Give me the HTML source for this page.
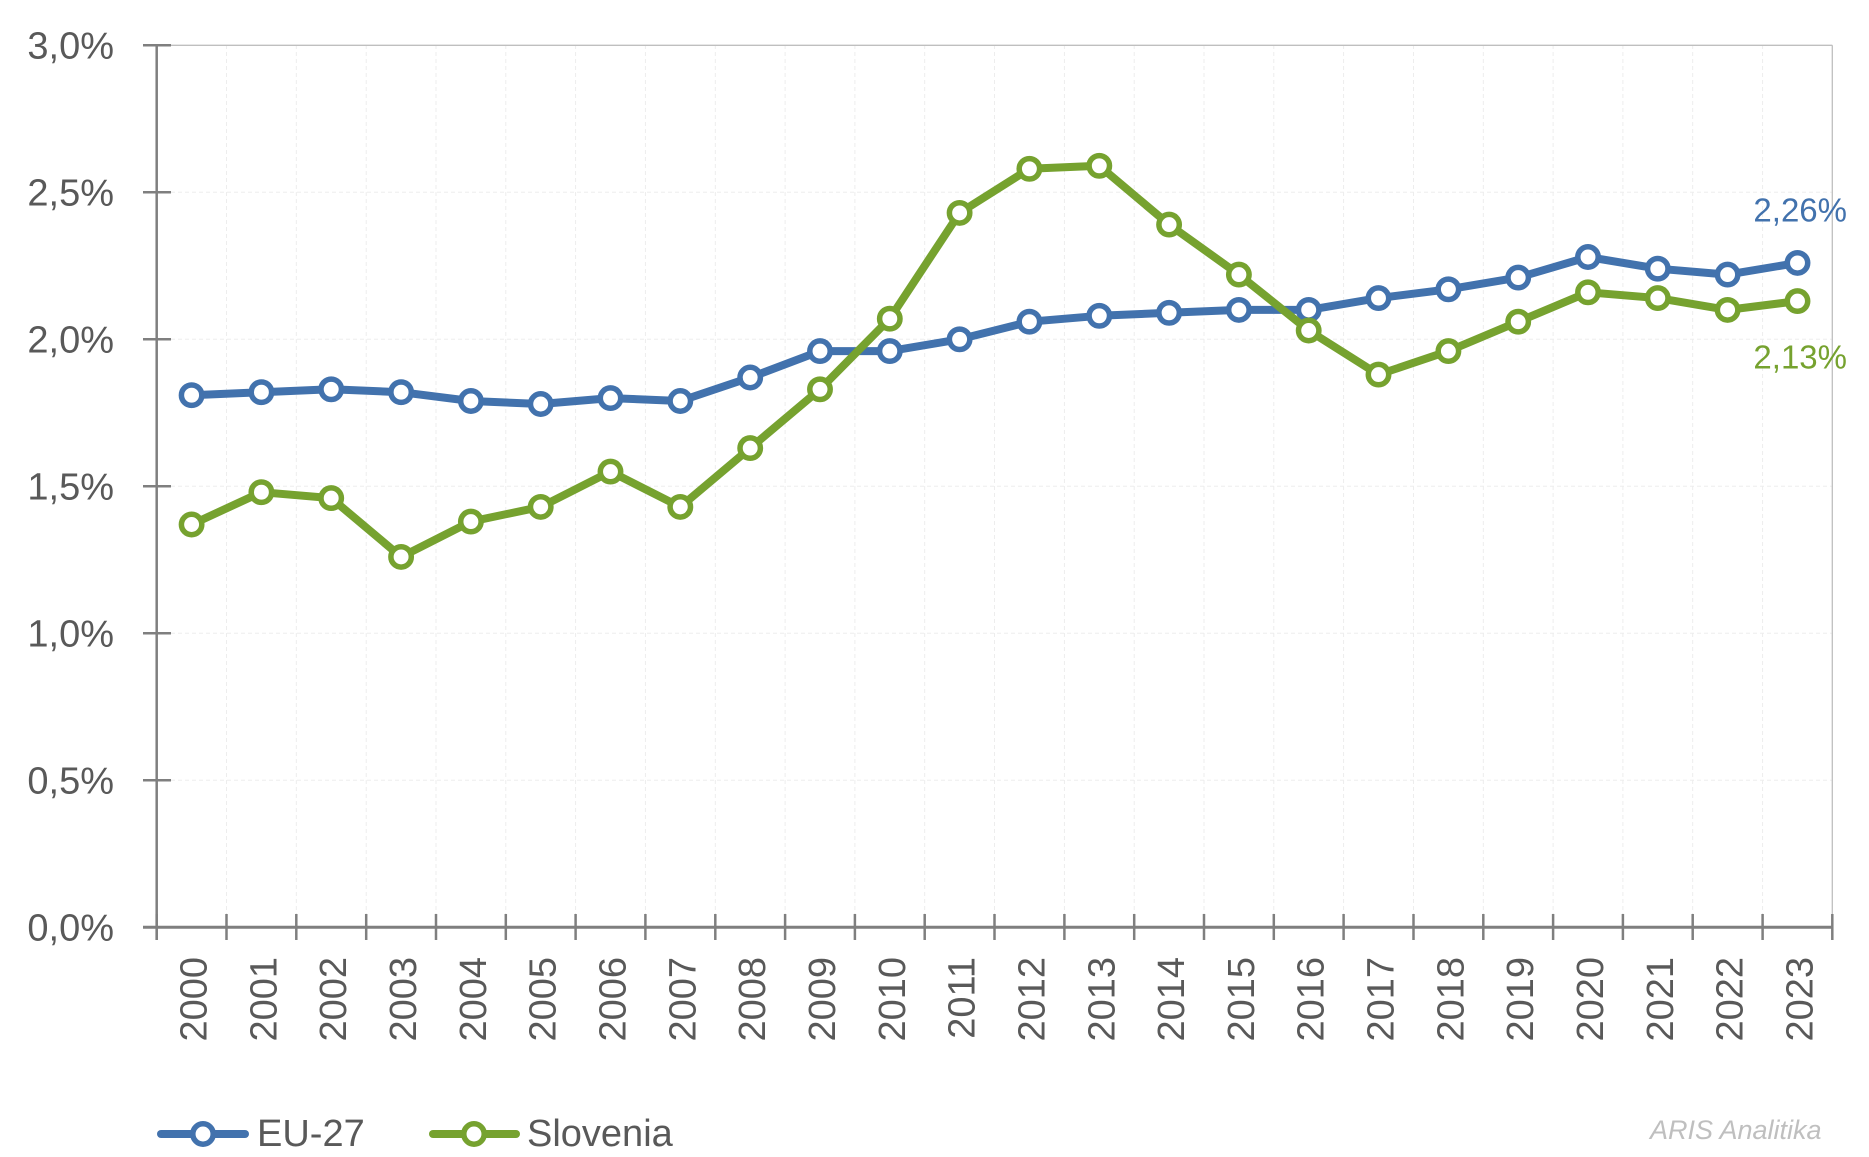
<!DOCTYPE html>
<html><head><meta charset="utf-8"><style>
html,body{margin:0;padding:0;background:#fff;}
svg{display:block;}
text{font-family:"Liberation Sans",sans-serif;}
</style></head><body>
<svg width="1869" height="1157" viewBox="0 0 1869 1157" xmlns="http://www.w3.org/2000/svg">
<rect width="1869" height="1157" fill="#fff"/>
<g stroke="#ededed" stroke-width="1" stroke-dasharray="4,3" fill="none">
<line x1="157" y1="192.3" x2="1832" y2="192.3"/>
<line x1="157" y1="339.3" x2="1832" y2="339.3"/>
<line x1="157" y1="486.3" x2="1832" y2="486.3"/>
<line x1="157" y1="633.3" x2="1832" y2="633.3"/>
<line x1="157" y1="780.3" x2="1832" y2="780.3"/>
<line x1="226.5" y1="45" x2="226.5" y2="927"/>
<line x1="296.3" y1="45" x2="296.3" y2="927"/>
<line x1="366.2" y1="45" x2="366.2" y2="927"/>
<line x1="436.0" y1="45" x2="436.0" y2="927"/>
<line x1="505.8" y1="45" x2="505.8" y2="927"/>
<line x1="575.6" y1="45" x2="575.6" y2="927"/>
<line x1="645.4" y1="45" x2="645.4" y2="927"/>
<line x1="715.3" y1="45" x2="715.3" y2="927"/>
<line x1="785.1" y1="45" x2="785.1" y2="927"/>
<line x1="854.9" y1="45" x2="854.9" y2="927"/>
<line x1="924.7" y1="45" x2="924.7" y2="927"/>
<line x1="994.5" y1="45" x2="994.5" y2="927"/>
<line x1="1064.4" y1="45" x2="1064.4" y2="927"/>
<line x1="1134.2" y1="45" x2="1134.2" y2="927"/>
<line x1="1204.0" y1="45" x2="1204.0" y2="927"/>
<line x1="1273.8" y1="45" x2="1273.8" y2="927"/>
<line x1="1343.6" y1="45" x2="1343.6" y2="927"/>
<line x1="1413.5" y1="45" x2="1413.5" y2="927"/>
<line x1="1483.3" y1="45" x2="1483.3" y2="927"/>
<line x1="1553.1" y1="45" x2="1553.1" y2="927"/>
<line x1="1622.9" y1="45" x2="1622.9" y2="927"/>
<line x1="1692.7" y1="45" x2="1692.7" y2="927"/>
<line x1="1762.6" y1="45" x2="1762.6" y2="927"/>
</g>
<line x1="157" y1="45.3" x2="1832.3" y2="45.3" stroke="#bfbfbf" stroke-width="1.3"/>
<line x1="1832.3" y1="45.3" x2="1832.3" y2="927" stroke="#bfbfbf" stroke-width="1.3"/>
<g stroke="#7f7f7f" stroke-width="2.5">
<line x1="156.7" y1="44" x2="156.7" y2="940"/>
<line x1="143" y1="45.3" x2="171" y2="45.3"/>
<line x1="143" y1="192.3" x2="171" y2="192.3"/>
<line x1="143" y1="339.3" x2="171" y2="339.3"/>
<line x1="143" y1="486.3" x2="171" y2="486.3"/>
<line x1="143" y1="633.3" x2="171" y2="633.3"/>
<line x1="143" y1="780.3" x2="171" y2="780.3"/>
</g>
<g stroke="#7f7f7f" stroke-width="3">
<line x1="143" y1="927.3" x2="1833.5" y2="927.3"/>
</g>
<g stroke="#7f7f7f" stroke-width="2.5">
<line x1="156.7" y1="914" x2="156.7" y2="940"/>
<line x1="226.5" y1="914" x2="226.5" y2="940"/>
<line x1="296.3" y1="914" x2="296.3" y2="940"/>
<line x1="366.2" y1="914" x2="366.2" y2="940"/>
<line x1="436.0" y1="914" x2="436.0" y2="940"/>
<line x1="505.8" y1="914" x2="505.8" y2="940"/>
<line x1="575.6" y1="914" x2="575.6" y2="940"/>
<line x1="645.4" y1="914" x2="645.4" y2="940"/>
<line x1="715.3" y1="914" x2="715.3" y2="940"/>
<line x1="785.1" y1="914" x2="785.1" y2="940"/>
<line x1="854.9" y1="914" x2="854.9" y2="940"/>
<line x1="924.7" y1="914" x2="924.7" y2="940"/>
<line x1="994.5" y1="914" x2="994.5" y2="940"/>
<line x1="1064.4" y1="914" x2="1064.4" y2="940"/>
<line x1="1134.2" y1="914" x2="1134.2" y2="940"/>
<line x1="1204.0" y1="914" x2="1204.0" y2="940"/>
<line x1="1273.8" y1="914" x2="1273.8" y2="940"/>
<line x1="1343.6" y1="914" x2="1343.6" y2="940"/>
<line x1="1413.5" y1="914" x2="1413.5" y2="940"/>
<line x1="1483.3" y1="914" x2="1483.3" y2="940"/>
<line x1="1553.1" y1="914" x2="1553.1" y2="940"/>
<line x1="1622.9" y1="914" x2="1622.9" y2="940"/>
<line x1="1692.7" y1="914" x2="1692.7" y2="940"/>
<line x1="1762.6" y1="914" x2="1762.6" y2="940"/>
<line x1="1832.3" y1="914" x2="1832.3" y2="940"/>
</g>
<g fill="#595959" font-size="38" text-anchor="end">
<text x="114" y="58.5">3,0%</text>
<text x="114" y="205.5">2,5%</text>
<text x="114" y="352.5">2,0%</text>
<text x="114" y="499.5">1,5%</text>
<text x="114" y="646.5">1,0%</text>
<text x="114" y="793.5">0,5%</text>
<text x="114" y="940.5">0,0%</text>
</g>
<g fill="#595959" font-size="38" text-anchor="end">
<text transform="translate(206.6,957) rotate(-90)">2000</text>
<text transform="translate(276.4,957) rotate(-90)">2001</text>
<text transform="translate(346.2,957) rotate(-90)">2002</text>
<text transform="translate(416.1,957) rotate(-90)">2003</text>
<text transform="translate(485.9,957) rotate(-90)">2004</text>
<text transform="translate(555.7,957) rotate(-90)">2005</text>
<text transform="translate(625.5,957) rotate(-90)">2006</text>
<text transform="translate(695.3,957) rotate(-90)">2007</text>
<text transform="translate(765.2,957) rotate(-90)">2008</text>
<text transform="translate(835.0,957) rotate(-90)">2009</text>
<text transform="translate(904.8,957) rotate(-90)">2010</text>
<text transform="translate(974.6,957) rotate(-90)">2011</text>
<text transform="translate(1044.4,957) rotate(-90)">2012</text>
<text transform="translate(1114.3,957) rotate(-90)">2013</text>
<text transform="translate(1184.1,957) rotate(-90)">2014</text>
<text transform="translate(1253.9,957) rotate(-90)">2015</text>
<text transform="translate(1323.7,957) rotate(-90)">2016</text>
<text transform="translate(1393.5,957) rotate(-90)">2017</text>
<text transform="translate(1463.4,957) rotate(-90)">2018</text>
<text transform="translate(1533.2,957) rotate(-90)">2019</text>
<text transform="translate(1603.0,957) rotate(-90)">2020</text>
<text transform="translate(1672.8,957) rotate(-90)">2021</text>
<text transform="translate(1742.6,957) rotate(-90)">2022</text>
<text transform="translate(1812.5,957) rotate(-90)">2023</text>
</g>
<polyline fill="none" stroke="#4272ad" stroke-width="8" stroke-linejoin="round" points="191.6,395.2 261.4,392.2 331.2,389.3 401.1,392.2 470.9,401.0 540.7,404.0 610.5,398.1 680.3,401.0 750.2,377.5 820.0,351.1 889.8,351.1 959.6,339.3 1029.4,321.7 1099.3,315.8 1169.1,312.8 1238.9,309.9 1308.7,309.9 1378.5,298.1 1448.4,289.3 1518.2,277.6 1588.0,257.0 1657.8,268.7 1727.6,274.6 1797.5,262.9"/>
<g fill="#fff" stroke="#4272ad" stroke-width="5.5">
<circle cx="191.6" cy="395.2" r="10.2"/><circle cx="261.4" cy="392.2" r="10.2"/><circle cx="331.2" cy="389.3" r="10.2"/><circle cx="401.1" cy="392.2" r="10.2"/><circle cx="470.9" cy="401.0" r="10.2"/><circle cx="540.7" cy="404.0" r="10.2"/><circle cx="610.5" cy="398.1" r="10.2"/><circle cx="680.3" cy="401.0" r="10.2"/><circle cx="750.2" cy="377.5" r="10.2"/><circle cx="820.0" cy="351.1" r="10.2"/><circle cx="889.8" cy="351.1" r="10.2"/><circle cx="959.6" cy="339.3" r="10.2"/><circle cx="1029.4" cy="321.7" r="10.2"/><circle cx="1099.3" cy="315.8" r="10.2"/><circle cx="1169.1" cy="312.8" r="10.2"/><circle cx="1238.9" cy="309.9" r="10.2"/><circle cx="1308.7" cy="309.9" r="10.2"/><circle cx="1378.5" cy="298.1" r="10.2"/><circle cx="1448.4" cy="289.3" r="10.2"/><circle cx="1518.2" cy="277.6" r="10.2"/><circle cx="1588.0" cy="257.0" r="10.2"/><circle cx="1657.8" cy="268.7" r="10.2"/><circle cx="1727.6" cy="274.6" r="10.2"/><circle cx="1797.5" cy="262.9" r="10.2"/>
</g>
<polyline fill="none" stroke="#76a22f" stroke-width="8" stroke-linejoin="round" points="191.6,524.5 261.4,492.2 331.2,498.1 401.1,556.9 470.9,521.6 540.7,506.9 610.5,471.6 680.3,506.9 750.2,448.1 820.0,389.3 889.8,318.7 959.6,212.9 1029.4,168.8 1099.3,165.8 1169.1,224.6 1238.9,274.6 1308.7,330.5 1378.5,374.6 1448.4,351.1 1518.2,321.7 1588.0,292.3 1657.8,298.1 1727.6,309.9 1797.5,301.1"/>
<g fill="#fff" stroke="#76a22f" stroke-width="5.5">
<circle cx="191.6" cy="524.5" r="10.2"/><circle cx="261.4" cy="492.2" r="10.2"/><circle cx="331.2" cy="498.1" r="10.2"/><circle cx="401.1" cy="556.9" r="10.2"/><circle cx="470.9" cy="521.6" r="10.2"/><circle cx="540.7" cy="506.9" r="10.2"/><circle cx="610.5" cy="471.6" r="10.2"/><circle cx="680.3" cy="506.9" r="10.2"/><circle cx="750.2" cy="448.1" r="10.2"/><circle cx="820.0" cy="389.3" r="10.2"/><circle cx="889.8" cy="318.7" r="10.2"/><circle cx="959.6" cy="212.9" r="10.2"/><circle cx="1029.4" cy="168.8" r="10.2"/><circle cx="1099.3" cy="165.8" r="10.2"/><circle cx="1169.1" cy="224.6" r="10.2"/><circle cx="1238.9" cy="274.6" r="10.2"/><circle cx="1308.7" cy="330.5" r="10.2"/><circle cx="1378.5" cy="374.6" r="10.2"/><circle cx="1448.4" cy="351.1" r="10.2"/><circle cx="1518.2" cy="321.7" r="10.2"/><circle cx="1588.0" cy="292.3" r="10.2"/><circle cx="1657.8" cy="298.1" r="10.2"/><circle cx="1727.6" cy="309.9" r="10.2"/><circle cx="1797.5" cy="301.1" r="10.2"/>
</g>
<text x="1847" y="221.5" font-size="33" fill="#4272ad" text-anchor="end">2,26%</text>
<text x="1847" y="368.5" font-size="33" fill="#76a22f" text-anchor="end">2,13%</text>
<line x1="161" y1="1134" x2="245" y2="1134" stroke="#4272ad" stroke-width="8" stroke-linecap="round"/>
<circle cx="203" cy="1134" r="10.2" fill="#fff" stroke="#4272ad" stroke-width="5.5"/>
<text x="257" y="1146" font-size="38" fill="#595959">EU-27</text>
<line x1="433" y1="1134" x2="516" y2="1134" stroke="#76a22f" stroke-width="8" stroke-linecap="round"/>
<circle cx="474" cy="1134" r="10.2" fill="#fff" stroke="#76a22f" stroke-width="5.5"/>
<text x="527" y="1146" font-size="38" fill="#595959">Slovenia</text>
<text x="1650" y="1139" font-size="27" font-style="italic" fill="#bfbfbf">ARIS Analitika</text>
</svg>
</body></html>
